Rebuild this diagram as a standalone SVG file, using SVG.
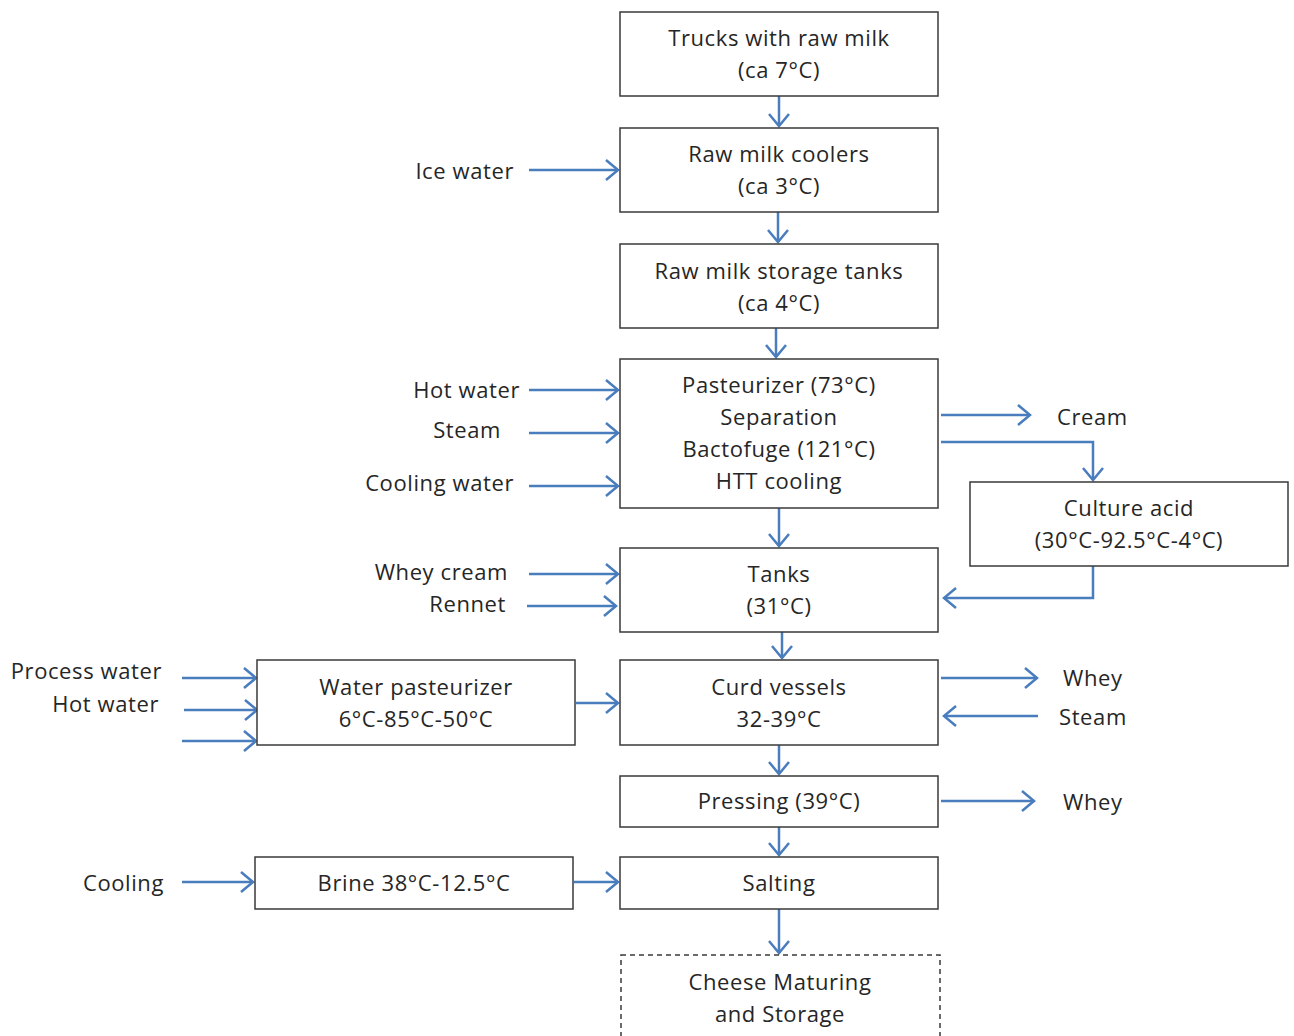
<svg xmlns="http://www.w3.org/2000/svg" width="1294" height="1036" viewBox="0 0 1294 1036">
<style>
.box{fill:#fff;stroke:#3a3a3a;stroke-width:1.5}
.dash{fill:#fff;stroke:#3a3a3a;stroke-width:1.5;stroke-dasharray:5 4}
text{font-family:"Open Sans",Lato,"Liberation Sans",sans-serif;font-size:22px;letter-spacing:0.6px;fill:#262626}
.c{text-anchor:middle}
.r{text-anchor:end}
.ln{fill:none;stroke:#4a7dbd;stroke-width:2.5}
</style>
<defs>
<marker id="ah" markerUnits="userSpaceOnUse" markerWidth="30" markerHeight="30" viewBox="-15 -15 30 30" refX="0" refY="0" orient="auto">
<path d="M-12,-10 L0,0 L-12,10" fill="none" stroke="#4a7dbd" stroke-width="2.5"/>
</marker>
</defs>
<g id="connectors">
<line class="ln" x1="779" y1="96" x2="779" y2="126" marker-end="url(#ah)"/>
<line class="ln" x1="778" y1="212" x2="778" y2="242" marker-end="url(#ah)"/>
<line class="ln" x1="776" y1="328" x2="776" y2="357" marker-end="url(#ah)"/>
<line class="ln" x1="779" y1="508" x2="779" y2="546" marker-end="url(#ah)"/>
<line class="ln" x1="782" y1="632" x2="782" y2="658" marker-end="url(#ah)"/>
<line class="ln" x1="779" y1="745" x2="779" y2="774" marker-end="url(#ah)"/>
<line class="ln" x1="779" y1="827" x2="779" y2="855" marker-end="url(#ah)"/>
<line class="ln" x1="779" y1="909" x2="779" y2="953" marker-end="url(#ah)"/>
<line class="ln" x1="529" y1="170" x2="618" y2="170" marker-end="url(#ah)"/>
<line class="ln" x1="529" y1="390" x2="618" y2="390" marker-end="url(#ah)"/>
<line class="ln" x1="529" y1="433" x2="618" y2="433" marker-end="url(#ah)"/>
<line class="ln" x1="529" y1="486" x2="618" y2="486" marker-end="url(#ah)"/>
<line class="ln" x1="529" y1="574" x2="618" y2="574" marker-end="url(#ah)"/>
<line class="ln" x1="527" y1="606" x2="616" y2="606" marker-end="url(#ah)"/>
<line class="ln" x1="182" y1="678" x2="256" y2="678" marker-end="url(#ah)"/>
<line class="ln" x1="184" y1="710" x2="257" y2="710" marker-end="url(#ah)"/>
<line class="ln" x1="182" y1="741" x2="256" y2="741" marker-end="url(#ah)"/>
<line class="ln" x1="576" y1="703" x2="618" y2="703" marker-end="url(#ah)"/>
<line class="ln" x1="182" y1="882" x2="253" y2="882" marker-end="url(#ah)"/>
<line class="ln" x1="574" y1="882" x2="618" y2="882" marker-end="url(#ah)"/>
<line class="ln" x1="941" y1="415" x2="1030" y2="415" marker-end="url(#ah)"/>
<path class="ln" d="M941,442 H1093 V480" marker-end="url(#ah)"/>
<path class="ln" d="M1093,566 V598 H944" marker-end="url(#ah)"/>
<line class="ln" x1="941" y1="678" x2="1037" y2="678" marker-end="url(#ah)"/>
<line class="ln" x1="1038" y1="716" x2="944" y2="716" marker-end="url(#ah)"/>
<line class="ln" x1="941" y1="801" x2="1034" y2="801" marker-end="url(#ah)"/>
</g>
<g id="trucks"><rect class="box" x="620" y="12" width="318" height="84"/><text class="c" x="779" y="46">Trucks with raw milk</text><text class="c" x="779" y="78">(ca 7°C)</text></g>
<g id="coolers"><rect class="box" x="620" y="128" width="318" height="84"/><text class="c" x="779" y="162">Raw milk coolers</text><text class="c" x="779" y="194">(ca 3°C)</text></g>
<g id="storage"><rect class="box" x="620" y="244" width="318" height="84"/><text class="c" x="779" y="279">Raw milk storage tanks</text><text class="c" x="779" y="311">(ca 4°C)</text></g>
<g id="pasteurizer"><rect class="box" x="620" y="359" width="318" height="149"/><text class="c" x="779" y="393">Pasteurizer (73°C)</text><text class="c" x="779" y="425">Separation</text><text class="c" x="779" y="457">Bactofuge (121°C)</text><text class="c" x="779" y="489">HTT cooling</text></g>
<g id="culture"><rect class="box" x="970" y="482" width="318" height="84"/><text class="c" x="1129" y="516">Culture acid</text><text class="c" x="1129" y="548">(30°C-92.5°C-4°C)</text></g>
<g id="tanks"><rect class="box" x="620" y="548" width="318" height="84"/><text class="c" x="779" y="582">Tanks</text><text class="c" x="779" y="614">(31°C)</text></g>
<g id="waterpast"><rect class="box" x="257" y="660" width="318" height="85"/><text class="c" x="416" y="695">Water pasteurizer</text><text class="c" x="416" y="727">6°C-85°C-50°C</text></g>
<g id="curd"><rect class="box" x="620" y="660" width="318" height="85"/><text class="c" x="779" y="695">Curd vessels</text><text class="c" x="779" y="727">32-39°C</text></g>
<g id="pressing"><rect class="box" x="620" y="776" width="318" height="51"/><text class="c" x="779" y="809">Pressing (39°C)</text></g>
<g id="brine"><rect class="box" x="255" y="857" width="318" height="52"/><text class="c" x="414" y="891">Brine 38°C-12.5°C</text></g>
<g id="salting"><rect class="box" x="620" y="857" width="318" height="52"/><text class="c" x="779" y="891">Salting</text></g>
<g id="cheese"><rect class="dash" x="621" y="955" width="319" height="100"/><text class="c" x="780" y="990">Cheese Maturing</text><text class="c" x="780" y="1022">and Storage</text></g>
<g id="labels">
<text class="r" x="514" y="179">Ice water</text>
<text class="r" x="520" y="398">Hot water</text>
<text class="r" x="501" y="438">Steam</text>
<text class="r" x="514" y="491">Cooling water</text>
<text class="r" x="508" y="580">Whey cream</text>
<text class="r" x="506" y="612">Rennet</text>
<text class="r" x="162" y="679">Process water</text>
<text class="r" x="159" y="712">Hot water</text>
<text class="r" x="164" y="891">Cooling</text>
<text x="1057" y="425">Cream</text>
<text x="1063" y="686">Whey</text>
<text x="1059" y="725">Steam</text>
<text x="1063" y="810">Whey</text>
</g>
</svg>
